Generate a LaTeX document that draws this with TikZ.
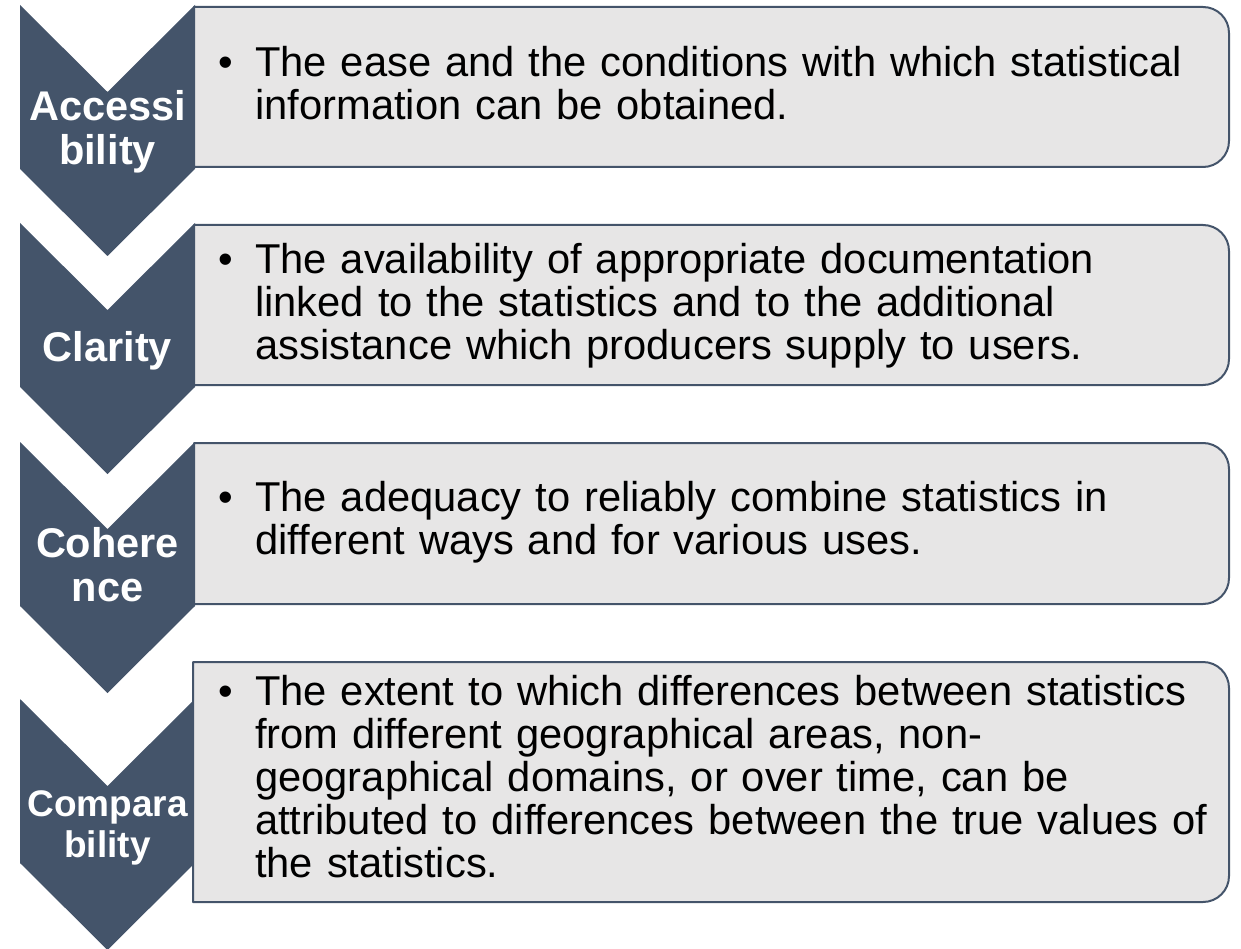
\documentclass[tikz,border=0pt]{standalone}
\usepackage{fontspec}
\setmainfont{Liberation Sans}
\definecolor{slate}{HTML}{44546A}
\definecolor{panel}{HTML}{E7E6E6}
\tikzset{
  chevronshape/.style={fill=slate, draw=none},
  panelshape/.style={fill=panel, draw=slate, line width=2pt, line join=round},
  chevlabel/.style={text=white, font=\bfseries\fontsize{41.5}{44}\selectfont,
    text width=175pt, align=center, inner sep=0pt, anchor=base},
  smalllabel/.style={chevlabel, font=\bfseries\fontsize{37}{41}\selectfont},
  bodytext/.style={text=black, font=\fontsize{41.7}{43}\selectfont,
    text width=1000pt, align=left, inner sep=0pt, anchor=base west}
}
% a downward chevron: #1 = top edge, body 164 high plus an 87 high tip
\newcommand{\chevronat}[1]{%
  \fill[chevronshape] (20,#1) -- (107.5,#1+87) -- (195,#1) -- (195,#1+164)
    -- (107.5,#1+251) -- (20,#1+164) -- cycle;}
% a panel rounded on its right side only: #1 left, #2 top, #3 bottom
\newcommand{\panelat}[3]{%
  \draw[panelshape] (#1,#2) -- (1203,#2) arc[start angle=-90, end angle=0, radius=26]
    -- (1229,#3-26) arc[start angle=0, end angle=90, radius=26] -- (#1,#3) -- cycle;}
% bulleted paragraph with the bullet hanging in the left margin
\newcommand{\bulletpar}[1]{\leftskip=36.3pt\leavevmode\llap{\makebox[36.3pt][l]{\textbullet}}#1\par}
\begin{document}
\begin{tikzpicture}[x=1pt, y=-1pt]
  \useasboundingbox (0,0) rectangle (1241,949);
  % chevrons
  \chevronat{5}
  \chevronat{223}
  \chevronat{442}
  \chevronat{699}
  % panels
  \panelat{194}{7}{167}
  \panelat{194}{225}{385}
  \panelat{194}{443}{604}
  \panelat{193}{662}{902}
  % chevron labels
  \node[chevlabel] (accessibility) at (107.5,121) {Accessi\\bility};
  \node[chevlabel] (clarity) at (107.5,361) {Clarity};
  \node[chevlabel] (coherence) at (107.5,557) {Cohere\\nce};
  \node[smalllabel] (comparability) at (107.5,816) {Compara\\bility};
  % panel texts
  \node[bodytext] (accesstext) at (218.7,77) {\bulletpar{%
    The ease and the conditions with which statistical\\
    information can be obtained.}};
  \node[bodytext] (claritytext) at (218.7,273.5) {\bulletpar{%
    The availability of appropriate documentation\\
    linked to the statistics and to the additional\\
    assistance which producers supply to users.}};
  \node[bodytext] (coherencetext) at (218.7,511) {\bulletpar{%
    The adequacy to reliably combine statistics in\\
    different ways and for various uses.}};
  \node[bodytext] (comparetext) at (218.7,705) {\bulletpar{%
    The extent to which differences between statistics\\
    from different geographical areas, non-\\
    geographical domains, or over time, can be\\
    attributed to differences between the true values of\\
    the statistics.}};
\end{tikzpicture}
\end{document}
